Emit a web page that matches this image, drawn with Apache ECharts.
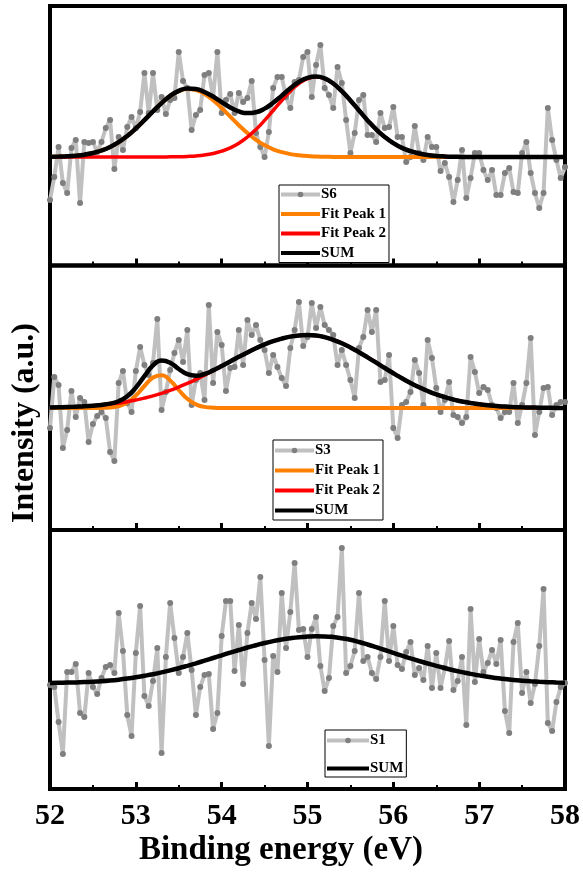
<!DOCTYPE html>
<html>
<head>
<meta charset="utf-8">
<script src="https://cdn.jsdelivr.net/npm/echarts/dist/echarts.min.js"></script>
<style>
  html, body { margin: 0; padding: 0; background: #fff; }
  #chart { width: 583px; height: 875px; }
</style>
</head>
<body>
<div id="chart"></div>
<script>
// binding energy axis, eV
const xTicks = [52, 53, 54, 55, 56, 57, 58]
const energyStart = 52
const dataStep = 0.05   // spacing of measured points
const fitStep = 0.1     // spacing of fit curve samples

// measured intensities (a.u., 0 = fit baseline), 52.00 .. 58.00 eV
const s6 = [
  -43, -20, 10, -26, -36, 9, 17, -46, 15, 14,
  15, 5, 15, 29, 37, -12, 20, 7, 30, 40,
  29, 45, 84, 44, 84, 47, 60, 43, 57, 59,
  105, 76, 69, 27, 42, 47, 82, 84, 60, 105,
  44, 57, 63, 44, 64, 55, 59, 76, 24, 10,
  0, 25, 69, 80, 80, 60, 49, 75, 77, 100,
  105, 60, 92, 112, 69, 62, 49, 90, 74, 37,
  4, 24, 57, 62, 22, 22, 15, 44, 29, 30,
  50, 20, 20, -5, 0, 31, 4, -3, 20, 10,
  10, -14, -6, -20, -45, -23, 7, -41, -21, 4,
  4, -13, -23, -13, -38, -38, -16, -11, -35, -36,
  4, 15, -16, -36, -51, -36, 49, 17, -3, -21,
  -10
]
const s3 = [
  -20, 31, 23, -40, -22, 17, -9, 10, 6, -34,
  -16, -8, -4, -10, -44, -53, 25, 37, 5, -4,
  37, 61, 43, 33, 45, 89, -2, 16, 38, 55,
  68, 46, 78, 3, 28, 35, 8, 103, 25, 76,
  63, 17, 40, 41, 78, 43, 88, 73, 83, 68,
  58, 35, 53, 41, 30, 22, 60, 78, 106, 62,
  71, 105, 80, 101, 83, 78, 73, 43, 58, 43,
  28, 10, 60, 71, 98, 76, 98, 26, 28, 53,
  -20, -30, 3, 6, 16, 48, 35, 3, 68, 50,
  20, -4, 8, 26, -7, -9, -15, -9, 51, 36,
  15, 21, 18, 3, 0, -10, -4, -4, 25, -15,
  3, 25, 70, -27, -4, 20, 21, -7, 3, 6,
  6
]
const s1 = [
  -2, -4, -39, -71, 11, 11, 19, -30, -34, 10,
  -4, -11, 5, 16, 18, 10, 70, 32, -32, -53,
  30, 77, -13, -23, 2, 35, -70, 26, 80, 45,
  10, 26, 50, 13, -32, -4, 8, 9, -46, -30,
  47, 82, 82, 12, 58, -1, 50, 80, 64, 106,
  23, -63, 27, 11, 90, 35, 71, 120, 53, 54,
  26, 54, 66, 17, -8, 5, 57, 66, 135, 10,
  17, 32, 90, 22, 26, 10, 4, 26, 82, 22,
  57, 18, 14, 31, 41, 8, 15, 3, 37, -5,
  30, -5, 15, 42, -7, 2, 26, -42, 74, 1,
  44, 11, 20, 33, 19, 43, -28, -50, 41, 60,
  -10, 11, -20, -1, 37, 94, -40, -48, -19, -4,
  0
]

// fit curves, 52.0 .. 58.0 eV
const s6Peak1 = [
  0.2, 0.4, 0.7, 1.3, 2.3, 4.0, 6.5, 10, 14.8, 21,
  28.5, 36.9, 45.6, 53.9, 61, 65.8, 68, 67, 63, 56.9,
  49, 40.4, 31.8, 23.9, 17.2, 11.8, 7.7, 4.9, 2.9, 1.7,
  0.9, 0.5, 0.3, 0.1, 0, 0, 0, 0, 0, 0,
  0, 0, 0, 0, 0, 0, 0, 0, 0, 0,
  0, 0, 0, 0, 0, 0, 0, 0, 0, 0,
  0
]
const s6Peak2 = [
  0, 0, 0, 0, 0, 0, 0, 0, 0, 0,
  0, 0, 0, 0, 0.2, 0.3, 0.6, 1.1, 2.0, 3.5,
  5.8, 9.1, 13.8, 20, 27.6, 36.6, 46.5, 56.5, 65.8, 73.4,
  78.3, 80, 78.3, 73.4, 65.8, 56.5, 46.5, 36.6, 27.6, 20,
  13.8, 9.1, 5.8, 3.5, 2.0, 1.1, 0.6, 0.3, 0.1, 0,
  0, 0, 0, 0, 0, 0, 0, 0, 0, 0,
  0
]
const s6Sum = [
  0.2, 0.4, 0.7, 1.3, 2.3, 4.0, 6.5, 10, 14.8, 21,
  28.5, 36.9, 45.6, 53.9, 61.2, 66.1, 68.6, 68.1, 65, 60.4,
  54.8, 49.5, 45.6, 43.9, 44.8, 48.4, 54.2, 61.4, 68.7, 75.1,
  79.2, 80.5, 78.6, 73.5, 65.8, 56.5, 46.5, 36.6, 27.6, 20,
  13.8, 9.1, 5.8, 3.5, 2.0, 1.1, 0.6, 0.3, 0.1, 0,
  0, 0, 0, 0, 0, 0, 0, 0, 0, 0,
  0
]
const s3Peak1 = [
  0, 0, 0, 0, 0, 0, 0.1, 0.5, 1.8, 5.4,
  12.4, 22, 30.5, 32.8, 27.6, 18, 9.2, 3.6, 1.1, 0.3,
  0, 0, 0, 0, 0, 0, 0, 0, 0, 0,
  0, 0, 0, 0, 0, 0, 0, 0, 0, 0,
  0, 0, 0, 0, 0, 0, 0, 0, 0, 0,
  0, 0, 0, 0, 0, 0, 0, 0, 0, 0,
  0
]
const s3Peak2 = [
  0.5, 0.7, 0.9, 1.3, 1.7, 2.3, 3.0, 3.9, 5.0, 6.3,
  8.0, 9.9, 12.1, 14.7, 17.7, 21, 24.6, 28.6, 32.9, 37.3,
  41.9, 46.6, 51.2, 55.6, 59.8, 63.6, 66.8, 69.4, 71.4, 72.6,
  73, 72.5, 70.9, 68.2, 64.8, 60.6, 55.8, 50.7, 45.4, 40,
  34.8, 29.7, 25, 20.8, 17, 13.7, 10.9, 8.5, 6.5, 5.0,
  3.7, 2.7, 2.0, 1.4, 1.0, 0.7, 0.5, 0.3, 0.2, 0.1,
  0.1
]
const s3Sum = [
  0.5, 0.7, 0.9, 1.3, 1.7, 2.3, 3.1, 4.4, 6.8, 11.7,
  20.4, 31.9, 42.6, 47.5, 45.3, 39, 33.8, 32.2, 34, 37.6,
  41.9, 46.6, 51.2, 55.6, 59.8, 63.6, 66.8, 69.4, 71.4, 72.6,
  73, 72.5, 70.9, 68.2, 64.8, 60.6, 55.8, 50.7, 45.4, 40,
  34.8, 29.7, 25, 20.8, 17, 13.7, 10.9, 8.5, 6.5, 5.0,
  3.7, 2.7, 2.0, 1.4, 1.0, 0.7, 0.5, 0.3, 0.2, 0.1,
  0.1
]
const s1Sum = [
  0, 0.2, 0.4, 0.6, 0.9, 1.2, 1.7, 2.4, 3.3, 4.4,
  5.7, 7.2, 8.8, 10.6, 12.6, 14.8, 17.2, 19.7, 22.3, 25,
  27.7, 30.4, 33, 35.5, 37.8, 40, 41.9, 43.5, 44.8, 45.8,
  46.4, 46.7, 46.6, 46, 44.8, 43.2, 41, 38.5, 35.8, 33,
  30.1, 27.3, 24.6, 22, 19.5, 17.1, 14.9, 12.8, 10.9, 9.1,
  7.6, 6.2, 5, 3.9, 3, 2.3, 1.7, 1.2, 0.8, 0.5,
  0.3
]

// y range of each panel (a.u.)
const yMin = [-108.5, -122, -106]
const yMax = [151, 142.5, 153]

const FONT = '"Liberation Serif", "Times New Roman", serif'
const grids = [
  { left: 50, width: 515, top: 6, height: 259.5 },
  { left: 50, width: 515, top: 265.5, height: 264.5 },
  { left: 50, width: 515, top: 530, height: 259 },
]

const pairs = (vals, step) => vals.map((v, i) => [energyStart + i * step, v])

const dataSeries = (name, vals, k) => ({
  name, type: 'line', xAxisIndex: k, yAxisIndex: k,
  data: pairs(vals, dataStep),
  symbol: 'circle', symbolSize: 6, showSymbol: true,
  lineStyle: { color: '#c0c0c0', width: 4 },
  itemStyle: { color: '#7f7f7f' },
  z: 2,
})
const fitSeries = (name, vals, k, color, width, z) => ({
  name, type: 'line', xAxisIndex: k, yAxisIndex: k,
  data: pairs(vals, fitStep),
  smooth: true, symbol: 'none', showSymbol: false,
  lineStyle: { color, width },
  itemStyle: { color },
  z,
})

// fit entries show only the line in the legend
const noDot = { opacity: 0, borderWidth: 0 }
const legendItems = (dataName, withPeaks) => [
  { name: dataName },
  ...(withPeaks ? [{ name: 'Fit Peak 1', itemStyle: noDot }, { name: 'Fit Peak 2', itemStyle: noDot }] : []),
  { name: 'SUM', itemStyle: noDot },
]

const legendBase = {
  orient: 'vertical', selectedMode: false,
  borderColor: '#000', borderWidth: 1, backgroundColor: '#fff',
  itemHeight: 7,
  lineStyle: { width: 4 },
  textStyle: { fontFamily: FONT, fontWeight: 'bold', fontSize: 15, color: '#000', padding: [0, 0, 0, -4] },
}

const chart = echarts.init(document.getElementById('chart'), null, { renderer: 'canvas' })
chart.setOption({
  animation: false,
  backgroundColor: '#fff',
  grid: grids.map(g => ({ ...g, show: true, borderColor: '#000', borderWidth: 4, backgroundColor: 'transparent', containLabel: false, outerBoundsMode: 'none' })),
  xAxis: grids.map((g, k) => ({
    type: 'value', gridIndex: k, position: 'bottom',
    min: xTicks[0], max: xTicks[xTicks.length - 1], interval: 1,
    axisLine: { show: false, onZero: false },
    axisTick: { show: true, inside: true, length: 7, lineStyle: { color: '#000', width: 3 } },
    minorTick: { show: true, splitNumber: 2, length: 4, lineStyle: { color: '#000', width: 2 } },
    splitLine: { show: false },
    axisLabel: {
      show: k === 2, margin: 12, color: '#000',
      fontFamily: FONT, fontWeight: 'bold', fontSize: 30,
    },
  })),
  yAxis: grids.map((g, k) => ({
    type: 'value', gridIndex: k, min: yMin[k], max: yMax[k],
    axisLine: { show: false }, axisTick: { show: false }, axisLabel: { show: false },
    splitLine: { show: false },
  })),
  legend: [
    { ...legendBase, left: 279, top: 185, itemWidth: 39, itemGap: 4.5, padding: [2, 3, 2, 0],
      data: legendItems('S6', true) },
    { ...legendBase, left: 273, top: 440, itemWidth: 39, itemGap: 5, padding: [3, 3, 2, 0],
      data: legendItems('S3', true) },
    { ...legendBase, left: 325, top: 730, itemWidth: 42, itemGap: 13, padding: [3, 3, 1, 0],
      data: legendItems('S1', false) },
  ],
  series: [
    dataSeries('S6', s6, 0),
    fitSeries('Fit Peak 1', s6Peak1, 0, '#ff8000', 4, 3),
    fitSeries('Fit Peak 2', s6Peak2, 0, '#ff0000', 3.5, 4),
    fitSeries('SUM', s6Sum, 0, '#000000', 4.5, 5),
    dataSeries('S3', s3, 1),
    fitSeries('Fit Peak 1', s3Peak1, 1, '#ff8000', 4, 3),
    fitSeries('Fit Peak 2', s3Peak2, 1, '#ff0000', 3.5, 4),
    fitSeries('SUM', s3Sum, 1, '#000000', 4.5, 5),
    dataSeries('S1', s1, 2),
    fitSeries('SUM', s1Sum, 2, '#000000', 4.5, 5),
  ],
  graphic: [
    { type: 'text', x: 25, y: 423, rotation: Math.PI / 2,
      style: { text: 'Intensity (a.u.)', fill: '#000', font: 'bold 32px ' + FONT, align: 'center', verticalAlign: 'middle' } },
    { type: 'text', x: 281, y: 850,
      style: { text: 'Binding energy (eV)', fill: '#000', font: 'bold 33px ' + FONT, align: 'center', verticalAlign: 'middle' } },
  ],
})
window.addEventListener('resize', () => chart.resize())
</script>
</body>
</html>
